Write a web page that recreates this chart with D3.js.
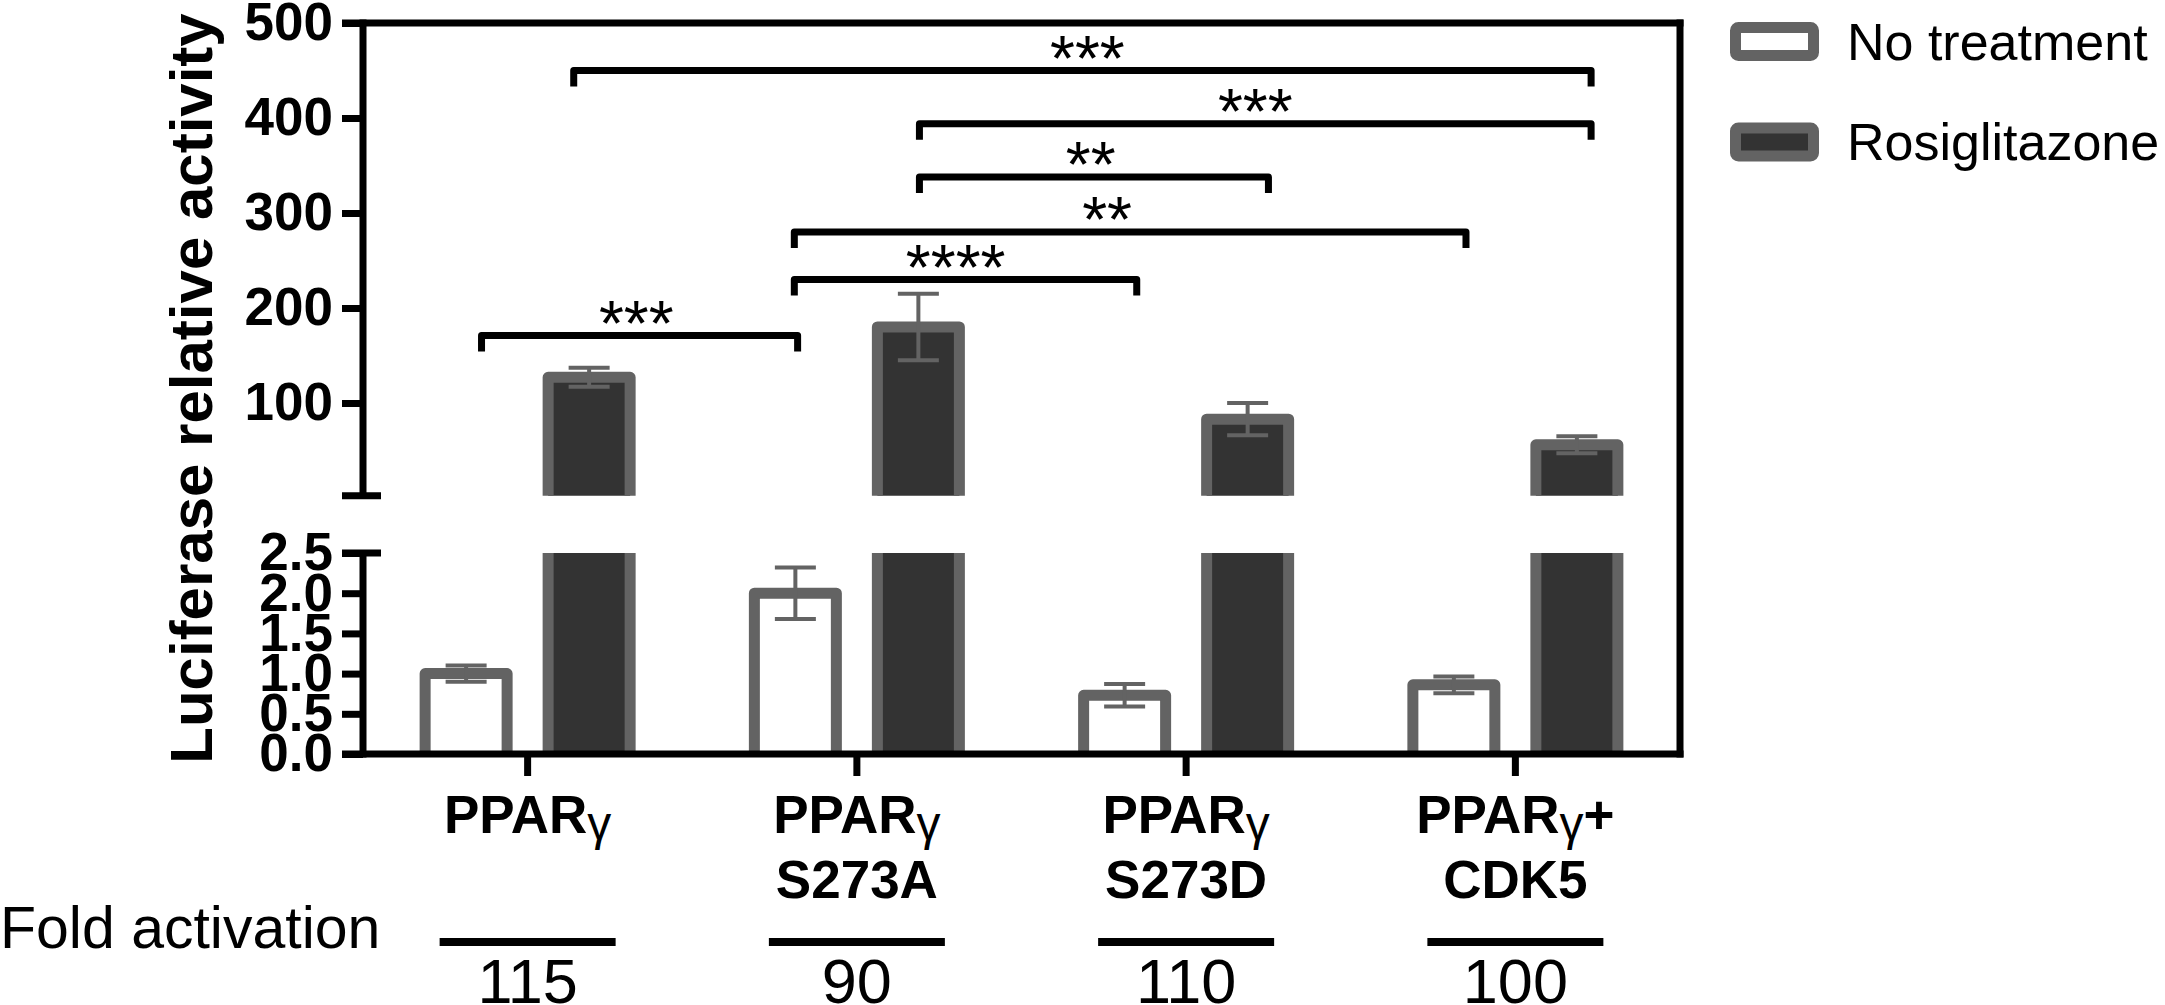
<!DOCTYPE html>
<html>
<head>
<meta charset="utf-8">
<script src="https://cdn.jsdelivr.net/npm/d3@7"></script>
<style>
  body { margin: 0; background: #fff; }
  svg { display: block; font-family: "Liberation Sans", Arial, sans-serif; }
</style>
</head>
<body>
<svg id="chart"></svg>
<script>
// values
const groups = ["PPARγ", "PPARγ S273A", "PPARγ S273D", "PPARγ+ CDK5"];
const labelLine1 = ["PPARγ", "PPARγ", "PPARγ", "PPARγ+"];
const labelLine2 = ["", "S273A", "S273D", "CDK5"];
const series = ["No treatment", "Rosiglitazone"];
const noTreatMean = [1.0, 2.0, 0.73, 0.86];
const noTreatErr = [0.1, 0.32, 0.14, 0.105];
const rosiMean = [127, 180, 83, 56];
const rosiErr = [10, 35, 17, 9];
const foldActivation = [115, 90, 110, 100];
const upperTicks = [100, 200, 300, 400, 500];
const lowerTicks = [0, 0.5, 1.0, 1.5, 2.0, 2.5];
// brackets: ends and label position in group units (0 = first group), level in upper-axis units
const bracketFrom  = [0.14, -0.14, 0.81, 0.81, 1.19, 1.19];
const bracketTo    = [3.23, 0.82, 1.85, 2.85, 2.25, 3.23];
const bracketLevel = [450, 171, 230, 280, 338, 394];
const bracketLabel = ["***", "***", "****", "**", "**", "***"];
const bracketText  = [1.70, 0.33, 1.30, 1.76, 1.71, 2.21];

const W = 2165, H = 1005;
const axisX = 363, rightX = 1680;
const barStroke = "#636363", darkFill = "#333333";

const svg = d3.select("#chart").attr("width", W).attr("height", H);

const x0 = d3.scaleBand().domain(groups).range([axisX, rightX]);
const x1 = d3.scaleBand().domain(series).range([-108, 108]).paddingInner(0.244);
const xPos = d3.scaleLinear().domain([-0.5, groups.length - 0.5]).range([axisX, rightX]);
const cx = g => x0(g) + x0.bandwidth() / 2;

const yUpper = d3.scaleLinear().domain([0, 500]).range([498, 23]);
const yLower = d3.scaleLinear().domain([0, 2.5]).range([754, 553]);
const breakVal = 2.5;

const defs = svg.append("defs");
defs.append("clipPath").attr("id", "clipUpper")
    .append("rect").attr("x", 0).attr("y", 0).attr("width", W).attr("height", yUpper(breakVal));
defs.append("clipPath").attr("id", "clipLower")
    .append("rect").attr("x", 0).attr("y", yLower(breakVal))
    .attr("width", W).attr("height", yLower(0) - yLower(breakVal));

const bars = [];
groups.forEach((g, i) => {
    bars.push({g: g, s: series[0], mean: noTreatMean[i], err: noTreatErr[i], fill: "#fff"});
    bars.push({g: g, s: series[1], mean: rosiMean[i], err: rosiErr[i], fill: darkFill});
});

const bw = x1.bandwidth();
const sw = 11;

function drawBars(layer, y, top, clip) {
    const gg = layer.append("g").attr("clip-path", `url(#${clip})`);
    gg.selectAll("rect")
        .data(bars.filter(d => clip === "clipLower" || d.mean > breakVal))
        .enter().append("rect")
        .attr("x", d => cx(d.g) + x1(d.s) + sw / 2)
        .attr("width", bw - sw)
        .attr("y", d => d.mean > top ? y(top) - 20 : y(d.mean))
        .attr("height", d => (y(0) + 20) - (d.mean > top ? y(top) - 20 : y(d.mean)))
        .attr("fill", d => d.fill)
        .attr("stroke", barStroke)
        .attr("stroke-width", sw)
        .attr("stroke-linejoin", "round");
}

drawBars(svg, yUpper, 500, "clipUpper");
drawBars(svg, yLower, breakVal, "clipLower");

// error bars
const errs = svg.append("g").attr("stroke", barStroke).attr("fill", "none");
bars.forEach(d => {
    const y = d.mean > breakVal ? yUpper : yLower;
    const x = cx(d.g) + x1(d.s) + bw / 2;
    const capW = 20.5;
    errs.append("line").attr("x1", x).attr("x2", x)
        .attr("y1", y(d.mean + d.err)).attr("y2", y(d.mean - d.err)).attr("stroke-width", 4);
    [d.mean + d.err, d.mean - d.err].forEach(v => {
        errs.append("line").attr("x1", x - capW).attr("x2", x + capW)
            .attr("y1", y(v)).attr("y2", y(v)).attr("stroke-width", 4);
    });
});

// axes
const tickFont = g => g.selectAll("text")
    .attr("font-size", 53).attr("font-weight", "bold").attr("fill", "#000")
    .attr("font-family", "'Liberation Sans', Arial, sans-serif");

const axU = svg.append("g").attr("transform", `translate(${axisX},0)`)
    .call(d3.axisLeft(yUpper).tickValues(upperTicks).tickSize(21).tickPadding(9)
        .tickFormat(d3.format("d")));
axU.select(".domain").remove();
axU.selectAll(".tick line").attr("stroke-width", 7);
tickFont(axU);

const axL = svg.append("g").attr("transform", `translate(${axisX},0)`)
    .call(d3.axisLeft(yLower).tickValues(lowerTicks).tickSize(21).tickPadding(9)
        .tickFormat(d3.format(".1f")));
axL.select(".domain").remove();
axL.selectAll(".tick line").attr("stroke-width", 7);
tickFont(axL);

const lines = svg.append("g").attr("stroke", "#000").attr("stroke-width", 7);
// y axis segments
lines.append("line").attr("x1", axisX).attr("x2", axisX)
    .attr("y1", yUpper(500) - 3.5).attr("y2", yUpper(breakVal));
lines.append("line").attr("x1", axisX).attr("x2", axisX)
    .attr("y1", yLower(breakVal)).attr("y2", yLower(0) + 3.5);
// break caps
[yUpper(breakVal), yLower(breakVal)].forEach(y => {
    lines.append("line").attr("x1", axisX - 21).attr("x2", axisX + 18).attr("y1", y).attr("y2", y);
});
// frame
lines.append("line").attr("x1", axisX - 21).attr("x2", rightX + 3.5)
    .attr("y1", yUpper(500)).attr("y2", yUpper(500));
lines.append("line").attr("x1", rightX).attr("x2", rightX)
    .attr("y1", yUpper(500) - 3.5).attr("y2", yLower(0) + 3.5);
lines.append("line").attr("x1", axisX - 21).attr("x2", rightX + 3.5)
    .attr("y1", yLower(0)).attr("y2", yLower(0));
// x ticks
groups.forEach(g => {
    lines.append("line").attr("x1", cx(g)).attr("x2", cx(g))
        .attr("y1", yLower(0)).attr("y2", yLower(0) + 22);
});

// category labels
const cat = svg.append("g").attr("text-anchor", "middle").attr("font-weight", "bold").attr("font-size", 53);
groups.forEach((g, i) => {
    const parts = labelLine1[i].split("γ");
    const t = cat.append("text").attr("x", cx(g)).attr("y", 833);
    t.append("tspan").text(parts[0]);
    t.append("tspan").attr("font-weight", "normal").attr("font-size", 48).attr("dy", 7).text("γ");
    if (parts[1]) t.append("tspan").attr("dy", -7).text(parts[1]);
    if (labelLine2[i]) cat.append("text").attr("x", cx(g)).attr("y", 898).text(labelLine2[i]);
});

// y title
svg.append("text")
    .attr("transform", `translate(212,${(yUpper(500) + yLower(0)) / 2}) rotate(-90)`)
    .attr("text-anchor", "middle").attr("font-weight", "bold").attr("font-size", 60)
    .text("Luciferase relative activity");

// significance brackets
const br = svg.append("g");
bracketLabel.forEach((lab, i) => {
    const y = yUpper(bracketLevel[i]);
    const xa = xPos(bracketFrom[i]), xb = xPos(bracketTo[i]);
    br.append("path")
        .attr("d", `M${xa},${y + 16}V${y}H${xb}V${y + 16}`)
        .attr("fill", "none").attr("stroke", "#000").attr("stroke-width", 7)
        .attr("stroke-linejoin", "round");
    br.append("text").attr("x", xPos(bracketText[i])).attr("y", y + 10)
        .attr("text-anchor", "middle").attr("font-size", 64).text(lab);
});

// legend
const legFill = ["#fff", darkFill];
const leg = svg.append("g");
series.forEach((s, i) => {
    const yc = 41.5 + i * 100.5;
    leg.append("rect").attr("x", 1730 + sw / 2).attr("y", yc - 19.5 + sw / 2)
        .attr("width", 89 - sw).attr("height", 39 - sw).attr("rx", 3)
        .attr("fill", legFill[i]).attr("stroke", barStroke).attr("stroke-width", sw)
        .attr("stroke-linejoin", "round");
    leg.append("text").attr("x", 1847).attr("y", yc + 18).attr("font-size", 52).text(s);
});

// fold activation row
const fold = svg.append("g");
fold.append("text").attr("x", 0).attr("y", 948).attr("font-size", 59).text("Fold activation");
groups.forEach((g, i) => {
    fold.append("line").attr("x1", cx(g) - 88).attr("x2", cx(g) + 88)
        .attr("y1", 942).attr("y2", 942).attr("stroke", "#000").attr("stroke-width", 8);
    fold.append("text").attr("x", cx(g)).attr("y", 1003).attr("text-anchor", "middle")
        .attr("font-size", 63).text(foldActivation[i]);
});
</script>
</body>
</html>
